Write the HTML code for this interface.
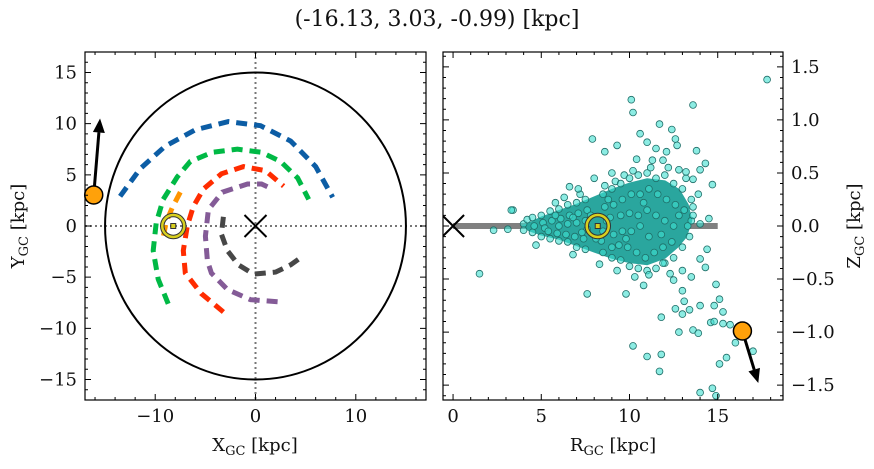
<!DOCTYPE html>
<html><head><meta charset="utf-8"><style>
body{margin:0;background:#fff;width:874px;height:464px;overflow:hidden}
svg,svg text{font-family:"DejaVu Serif","Liberation Serif","Noto Serif CJK SC",serif}
</style></head><body>
<svg id="c" width="874" height="464"></svg>
<script>
// ---------- data ----------
const armBlue=[[-13.5,2.9],[-11.5,5.6],[-9,7.8],[-6,9.4],[-2.7,10.2],[0.5,9.8],[3.5,8.3],[6,5.8],[7.7,2.8]];
const armGreen=[[-8.7,-7.6],[-9.7,-5.2],[-10.2,-2.4],[-9.9,0.3],[-9.2,2.6],[-7.8,4.8],[-6.5,6.3],[-4.3,7.2],[-1.8,7.5],[0.6,7.2],[2.5,6.3],[4.2,4.7],[5.3,2.6]];
const armRed=[[-3.2,-8.4],[-5.4,-6.6],[-7,-4.6],[-7.2,-2.4],[-6.8,0],[-6.2,1.9],[-5.2,3.6],[-3.4,5.1],[-1.2,5.8],[1,5.4],[2.8,3.9]];
const armPurple=[[2.2,-7.4],[-0.5,-7.2],[-2.8,-6.2],[-4.4,-4.6],[-4.8,-3.4],[-5,-1],[-4.7,1.6],[-3.3,3.3],[-0.8,4.1],[0.6,4.1],[1.7,3.6]];
const armGray=[[-3.2,0.9],[-3.4,-0.8],[-2.8,-2.4],[-1.7,-3.8],[-0.2,-4.7],[2,-4.5],[3.5,-3.8],[4.5,-3.1]];
const armOrange=[[-7.5,3.3],[-8.3,1.8],[-8.9,0.4],[-9.2,-1.1]];
const starXY=[-16.13,3.03], arrowXY=[-15.5,10.5], sunXY=[-8.2,0];
const starRZ=[16.4,-0.99], arrowRZ=[17.3,-1.48], sunRZ=[8.2,0];
const coreEnvelope=[[4,0],[5,0.08],[6,0.14],[7,0.2],[8,0.27],[9,0.34],[10,0.4],[11,0.44],[12,0.42],[12.8,0.34],[13.3,0.2],[13.5,0.05],[13.2,-0.1],[12.7,-0.2],[12,-0.3],[11,-0.36],[10,-0.34],[9,-0.3],[8,-0.24],[7,-0.18],[6,-0.12],[5,-0.08],[4.3,-0.04]];
const outliers=[[10.1,1.19],[13.6,1.14],[10.2,1.07],[11.7,0.96],[12.4,0.91],[10.6,0.87],[7.9,0.82],[9.3,0.76],[11.0,0.79],[12.7,0.76],[8.6,0.70],[13.8,0.71],[11.5,0.73],[10.4,0.63],[14.3,0.59],[14.7,0.39],[6.6,0.37],[7.1,0.35],[3.4,0.15],[3.1,-0.03],[4.7,-0.18],[7.6,-0.64],[9.8,-0.64],[14.9,-0.55],[14.5,0.07],[14.0,0.02],[13.3,0.0],[14.4,-0.22],[14.0,-0.31],[14.3,-0.39],[13.0,-0.61],[11.8,-0.86],[12.6,-0.78],[13.0,-0.83],[13.4,-0.79],[13.1,-0.71],[14.0,-0.75],[15.1,-0.69],[14.8,-0.75],[15.3,-0.81],[14.6,-0.91],[14.8,-0.90],[15.3,-0.92],[15.7,-0.93],[12.8,-1.0],[13.6,-0.98],[13.9,-1.01],[16.0,-1.1],[10.2,-1.13],[11.0,-1.23],[11.8,-1.21],[11.7,-1.37],[15.1,-1.30],[15.5,-1.24],[17.0,-1.18],[14.0,-1.57],[14.7,-1.53],[14.9,-1.6],[17.8,1.38],[1.5,-0.45],[2.3,-0.04],[3.3,0.15],[12.5,-0.51],[13.5,-0.48],[10.8,-0.56],[11.1,-0.46],[11.9,-0.35],[13.0,-0.42],[12.8,0.53],[13.2,0.51],[14.0,0.53],[12.1,0.70],[12.6,0.82],[11.9,0.62],[13.6,0.44],[13.6,0.18],[13.9,0.3],[13.6,0.1],[8.0,0.45],[9.0,0.5],[10.3,-0.48],[9.3,-0.42],[8.3,-0.36],[12.3,-0.45],[6.3,0.27],[5.8,0.22],[6.8,-0.27],[11.3,0.62]];
const corePts=[[4,0.02],[4,-0.04],[4.2,0.06],[4.5,0.08],[4.5,-0.06],[4.6,0],[5,0.1],[5,-0.1],[5.1,0.03],[5.2,-0.02],[5.5,0.14],[5.5,-0.12],[5.6,0.05],[5.4,-0.05],[6,0.16],[6,-0.14],[6.1,0.07],[5.9,-0.07],[6,0],[6.5,0.2],[6.5,-0.15],[6.6,0.1],[6.4,-0.08],[6.5,0.02],[7,0.22],[7,-0.2],[7.1,0.12],[6.9,-0.1],[7,0.03],[7.2,0.3],[7.5,0.25],[7.5,-0.22],[7.6,0.15],[7.4,-0.12],[7.5,0.05],[7.6,-0.03],[8.5,0.3],[8.5,-0.25],[8.6,0.18],[8.4,-0.14],[8.7,0.05],[8.5,-0.05],[8.6,0.38],[9,0.35],[9,-0.3],[9.1,0.2],[9,-0.2],[8.9,0.08],[9.1,-0.08],[9.2,0.42],[9.5,0.4],[9.5,-0.32],[9.6,0.25],[9.4,-0.18],[9.5,0.1],[9.6,-0.05],[9.7,0.48],[10,0.45],[10,-0.38],[10.1,0.3],[9.9,-0.2],[10,0.12],[10.1,-0.05],[10.2,0.52],[10.5,0.48],[10.5,-0.4],[10.6,0.3],[10.4,-0.25],[10.5,0.1],[10.6,0],[11,0.5],[11,-0.42],[11.1,0.35],[10.9,-0.3],[11,0.15],[11.1,-0.1],[11.2,0.55],[11.5,0.45],[11.5,-0.4],[11.6,0.3],[11.4,-0.25],[11.5,0.1],[12,0.48],[12,-0.35],[12.1,0.25],[11.9,-0.2],[12,0.05],[12.2,0.55],[12.5,0.4],[12.5,-0.3],[12.6,0.2],[12.4,-0.15],[12.5,0],[13,0.35],[13,-0.2],[13.1,0.15],[13.2,0.45],[13.5,0.25],[13.4,-0.1],[13.5,0.05],[7.8,0.1],[8.1,-0.12],[8.8,0.25],[9.8,-0.12],[10.8,0.22],[11.8,-0.08],[12.8,0.1],[7.3,-0.06],[6.8,0.08],[5.8,0.1]];
const leftXTicks=[-10,0,10], leftYTicks=[-15,-10,-5,0,5,10,15];
const rightXTicks=[0,5,10,15], rightYTicks=[-1.5,-1.0,-0.5,0.0,0.5,1.0,1.5];
// ---------- axes ----------
const L={x0:85,x1:426,y0:52,y1:400,xmin:-17,xmax:17,ymin:-17,ymax:17};
const R={x0:443,x1:783,y0:52,y1:400,xmin:-0.57,xmax:18.7,ymin:-1.64,ymax:1.64};
const sx=(a,v)=>a.x0+(v-a.xmin)/(a.xmax-a.xmin)*(a.x1-a.x0);
const sy=(a,v)=>a.y1-(v-a.ymin)/(a.ymax-a.ymin)*(a.y1-a.y0);
const svg=document.getElementById('c');const NS='http://www.w3.org/2000/svg';
const FONT='"DejaVu Serif","Liberation Serif","Noto Serif CJK SC",serif';
function mk(t,at,parent){const e=document.createElementNS(NS,t);for(const k in at)e.setAttribute(k,at[k]);(parent||svg).appendChild(e);return e;}
function txt(s,x,y,size,anchor,name){const e=mk('text',{x:x,y:y,'font-size':size,'text-anchor':anchor||'middle',fill:'#111','font-family':FONT});e.innerHTML=s;


return e;}
const defs=mk('defs',{});
const cl=mk('clipPath',{id:'cl'},defs);mk('rect',{x:L.x0,y:L.y0,width:L.x1-L.x0,height:L.y1-L.y0},cl);
const cr=mk('clipPath',{id:'cr'},defs);mk('rect',{x:R.x0,y:R.y0,width:R.x1-R.x0,height:R.y1-R.y0},cr);
const gl=mk('g',{'clip-path':'url(#cl)'});


const gr=mk('g',{'clip-path':'url(#cr)'});


let e=mk('line',{x1:sx(L,0),x2:sx(L,0),y1:L.y0,y2:L.y1,stroke:'#777','stroke-width':2,'stroke-dasharray':'2,3'},gl);


e=mk('line',{x1:L.x0,x2:L.x1,y1:sy(L,0),y2:sy(L,0),stroke:'#777','stroke-width':2,'stroke-dasharray':'2,3'},gl);


e=mk('ellipse',{cx:sx(L,0),cy:sy(L,0),rx:sx(L,15)-sx(L,0),ry:sy(L,0)-sy(L,15),fill:'none',stroke:'#000','stroke-width':2},gl);


function arm(pts,col,name){const d=pts.map((p,i)=>(i?'L':'M')+sx(L,p[0]).toFixed(1)+','+sy(L,p[1]).toFixed(1)).join('');
const p=mk('path',{d:d,fill:'none',stroke:col,'stroke-width':5,'stroke-dasharray':'11,7'},gl);

}
arm(armBlue,'#0c5da5','arm-blue');arm(armOrange,'#ff9500','arm-orange');arm(armGreen,'#00b945','arm-green');arm(armRed,'#ff2c00','arm-red');arm(armPurple,'#845b97','arm-purple');arm(armGray,'#474747','arm-gray');
function xmark(g,x,y,name){const p=mk('path',{d:`M${x-11},${y-11}L${x+11},${y+11}M${x-11},${y+11}L${x+11},${y-11}`,stroke:'#000','stroke-width':2,fill:'none'},g);

}
xmark(gl,sx(L,0),sy(L,0),'galactic-center-marker');
function sun(g,x,y,name){const s=mk('g',{},g);


mk('circle',{cx:x,cy:y,r:11,fill:'none',stroke:'#333','stroke-width':4.5},s);mk('circle',{cx:x,cy:y,r:11,fill:'none',stroke:'#d8cf1f','stroke-width':2.5},s);mk('rect',{x:x-2.5,y:y-2.5,width:5,height:5,fill:'#d8cf1f',stroke:'#333','stroke-width':1},s);}
sun(gl,sx(L,sunXY[0]),sy(L,sunXY[1]),'sun-marker-xy');
function arrow(g,x1,y1,x2,y2,name){const ang=Math.atan2(y2-y1,x2-x1),h=14,w=6;
const bx=x2-h*Math.cos(ang),by=y2-h*Math.sin(ang);
const a=mk('g',{},g);


mk('line',{x1:x1,y1:y1,x2:bx,y2:by,stroke:'#000','stroke-width':3},a);
mk('path',{d:`M${x2},${y2}L${bx-w*Math.sin(ang)},${by+w*Math.cos(ang)}L${bx+w*Math.sin(ang)},${by-w*Math.cos(ang)}Z`,fill:'#000'},a);}
arrow(svg,sx(L,starXY[0]),sy(L,starXY[1]),sx(L,arrowXY[0]),sy(L,arrowXY[1]),'velocity-arrow-xy');
e=mk('circle',{cx:sx(L,starXY[0]),cy:sy(L,starXY[1]),r:9,fill:'#ffa10a',stroke:'#000','stroke-width':1.5});


e=mk('line',{x1:sx(R,0),x2:sx(R,15),y1:sy(R,0),y2:sy(R,0),stroke:'#808080','stroke-width':6},gr);


e=mk('path',{d:coreEnvelope.map((p,i)=>(i?'L':'M')+sx(R,p[0]).toFixed(1)+','+sy(R,p[1]).toFixed(1)).join('')+'Z',fill:'#2aa69e',stroke:'#2aa69e','stroke-width':2},gr);


const sg=mk('g',{},gr);


corePts.concat(outliers).forEach(p=>{const c=mk('circle',{cx:sx(R,p[0]).toFixed(1),cy:sy(R,p[1]).toFixed(1),r:3.4,fill:'rgba(64,224,208,0.6)',stroke:'#1f6e68','stroke-width':0.8},sg);

});
sun(gr,sx(R,sunRZ[0]),sy(R,sunRZ[1]),'sun-marker-rz');
xmark(gr,sx(R,0),sy(R,0),'galactic-center-marker-rz');
arrow(svg,sx(R,starRZ[0]),sy(R,starRZ[1]),sx(R,arrowRZ[0]),sy(R,arrowRZ[1]),'velocity-arrow-rz');
e=mk('circle',{cx:sx(R,starRZ[0]),cy:sy(R,starRZ[1]),r:9,fill:'#ffa10a',stroke:'#000','stroke-width':1.5});


function frame(a,xt,xminor,yt,yminor,yRight,fmtY,name){
const f=mk('rect',{x:a.x0,y:a.y0,width:a.x1-a.x0,height:a.y1-a.y0,fill:'none',stroke:'#000','stroke-width':1.2});


let d='';
for(let v=Math.ceil(a.xmin/xminor)*xminor;v<=a.xmax+1e-9;v+=xminor){const x=sx(a,v);d+=`M${x},${a.y1}v-3M${x},${a.y0}v3`;}
for(let v=Math.ceil(a.ymin/yminor)*yminor;v<=a.ymax+1e-9;v+=yminor){const y=sy(a,v);d+=`M${a.x0},${y}h3M${a.x1},${y}h-3`;}
xt.forEach(v=>{const x=sx(a,v);d+=`M${x},${a.y1}v-6M${x},${a.y0}v6`;txt(String(v).replace('-','−'),x,a.y1+22,18,'middle','x-tick-label');});
yt.forEach(v=>{const y=sy(a,v);d+=`M${a.x0},${y}h6M${a.x1},${y}h-6`;
const s=fmtY(v);if(yRight)txt(s,a.x1+8,y+6,18,'start','y-tick-label');else txt(s,a.x0-8,y+6,18,'end','y-tick-label');});
const t=mk('path',{d:d,stroke:'#000','stroke-width':1,fill:'none'});

}
frame(L,leftXTicks,2,leftYTicks,1,false,v=>String(v).replace('-','−'),'xy-axes-frame');
frame(R,rightXTicks,1,rightYTicks,0.1,true,v=>v.toFixed(1).replace('-','−'),'rz-axes-frame');
txt('(-16.13, 3.03, -0.99) [kpc]',437,26,22,'middle','chart-title');
txt('X<tspan font-size="13" dy="4">GC</tspan><tspan dy="-4"> [kpc]</tspan>',255,451,18,'middle','x-axis-title-left');
txt('R<tspan font-size="13" dy="4">GC</tspan><tspan dy="-4"> [kpc]</tspan>',613,451,18,'middle','x-axis-title-right');
let t=txt('Y<tspan font-size="13" dy="4">GC</tspan><tspan dy="-4"> [kpc]</tspan>',0,0,18,'middle','y-axis-title-left');t.setAttribute('transform','translate(24,226) rotate(-90)');
t=txt('Z<tspan font-size="13" dy="4">GC</tspan><tspan dy="-4"> [kpc]</tspan>',0,0,18,'middle','y-axis-title-right');t.setAttribute('transform','translate(860,226) rotate(-90)');
</script>
</body></html>
